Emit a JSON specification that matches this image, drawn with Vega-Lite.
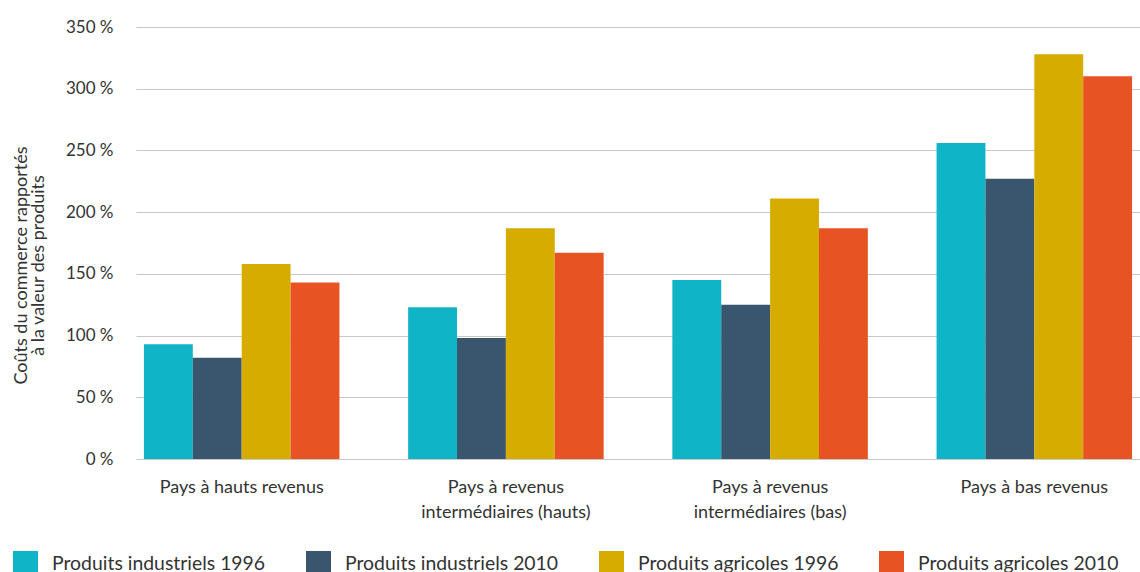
{
  "$schema": "https://vega.github.io/schema/vega-lite/v6.json",
  "autosize": {"type": "none"},
  "width": 1004,
  "height": 432,
  "padding": {"left": 136, "top": 27, "right": 0, "bottom": 113},
  "background": "white",
  "config": {
    "font": "Lato",
    "view": {"stroke": null},
    "axis": {"labelColor": "#333333", "titleColor": "#333333"}
  },
  "data": {
    "values": [
      {"groupe": "Pays à hauts revenus", "serie": "Produits industriels 1996", "valeur": 93},
      {"groupe": "Pays à hauts revenus", "serie": "Produits industriels 2010", "valeur": 82},
      {"groupe": "Pays à hauts revenus", "serie": "Produits agricoles 1996", "valeur": 158},
      {"groupe": "Pays à hauts revenus", "serie": "Produits agricoles 2010", "valeur": 143},
      {"groupe": "Pays à revenus intermédiaires (hauts)", "serie": "Produits industriels 1996", "valeur": 123},
      {"groupe": "Pays à revenus intermédiaires (hauts)", "serie": "Produits industriels 2010", "valeur": 98},
      {"groupe": "Pays à revenus intermédiaires (hauts)", "serie": "Produits agricoles 1996", "valeur": 187},
      {"groupe": "Pays à revenus intermédiaires (hauts)", "serie": "Produits agricoles 2010", "valeur": 167},
      {"groupe": "Pays à revenus intermédiaires (bas)", "serie": "Produits industriels 1996", "valeur": 145},
      {"groupe": "Pays à revenus intermédiaires (bas)", "serie": "Produits industriels 2010", "valeur": 125},
      {"groupe": "Pays à revenus intermédiaires (bas)", "serie": "Produits agricoles 1996", "valeur": 211},
      {"groupe": "Pays à revenus intermédiaires (bas)", "serie": "Produits agricoles 2010", "valeur": 187},
      {"groupe": "Pays à bas revenus", "serie": "Produits industriels 1996", "valeur": 256},
      {"groupe": "Pays à bas revenus", "serie": "Produits industriels 2010", "valeur": 227},
      {"groupe": "Pays à bas revenus", "serie": "Produits agricoles 1996", "valeur": 328},
      {"groupe": "Pays à bas revenus", "serie": "Produits agricoles 2010", "valeur": 310}
    ]
  },
  "mark": {"type": "bar"},
  "encoding": {
    "x": {
      "field": "groupe",
      "type": "nominal",
      "sort": null,
      "scale": {"paddingInner": 0.26, "paddingOuter": 0.03},
      "axis": {
        "title": null,
        "labelAngle": 0,
        "domain": false,
        "ticks": false,
        "labelFontSize": 18,
        "labelPadding": 19,
        "labelBaseline": "top",
        "labelLineHeight": 25,
        "labelLimit": 300,
        "labelExpr": "indexof(datum.label, ' interm') > 0 ? [slice(datum.label, 0, indexof(datum.label, ' interm')), slice(datum.label, indexof(datum.label, ' interm') + 1)] : datum.label"
      }
    },
    "xOffset": {
      "field": "serie",
      "type": "nominal",
      "sort": ["Produits industriels 1996", "Produits industriels 2010", "Produits agricoles 1996", "Produits agricoles 2010"],
      "scale": {"paddingInner": 0, "paddingOuter": 0}
    },
    "y": {
      "field": "valeur",
      "type": "quantitative",
      "scale": {"domain": [0, 350], "nice": false},
      "axis": {
        "title": ["Coûts du commerce rapportés", "à la valeur des produits"],
        "titleFontSize": 18,
        "titleFontWeight": "normal",
        "titleLineHeight": 17,
        "titlePadding": 18,
        "titleY": 238,
        "values": [0, 50, 100, 150, 200, 250, 300, 350],
        "labelExpr": "datum.value + ' %'",
        "labelFontSize": 17,
        "labelPadding": 23,
        "domain": false,
        "ticks": false,
        "grid": true,
        "gridColor": "#c8c8c8",
        "gridWidth": 1
      }
    },
    "color": {
      "field": "serie",
      "type": "nominal",
      "sort": ["Produits industriels 1996", "Produits industriels 2010", "Produits agricoles 1996", "Produits agricoles 2010"],
      "scale": {
        "domain": ["Produits industriels 1996", "Produits industriels 2010", "Produits agricoles 1996", "Produits agricoles 2010"],
        "range": ["#0fb4c6", "#3a556e", "#d6ac00", "#e85324"]
      },
      "legend": {
        "title": null,
        "orient": "none",
        "direction": "horizontal",
        "legendX": -123,
        "legendY": 524,
        "symbolType": "square",
        "symbolSize": 625,
        "symbolStrokeWidth": 0,
        "symbolOpacity": 1,
        "labelFontSize": 19.4,
        "labelColor": "#333333",
        "labelOffset": 14,
        "labelLimit": 400,
        "columnPadding": 40
      }
    }
  }
}
